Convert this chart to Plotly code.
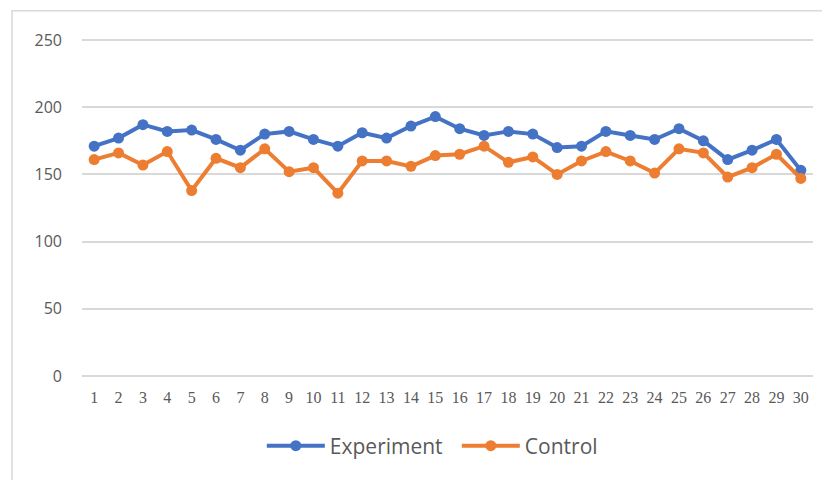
import plotly.graph_objects as go

categories = [str(i) for i in range(1, 31)]
experiment = [171, 177, 187, 182, 183, 176, 168, 180, 182, 176,
              171, 181, 177, 186, 193, 184, 179, 182, 180, 170,
              171, 182, 179, 176, 184, 175, 161, 168, 176, 153]
control = [161, 166, 157, 167, 138, 162, 155, 169, 152, 155,
           136, 160, 160, 156, 164, 165, 171, 159, 163, 150,
           160, 167, 160, 151, 169, 166, 148, 155, 165, 147]
y_ticks = [0, 50, 100, 150, 200, 250]

fig = go.Figure()
fig.add_trace(go.Scatter(x=categories, y=experiment, name="Experiment",
                         mode="lines+markers",
                         line=dict(color="#4472C4", width=4),
                         marker=dict(color="#4472C4", size=11)))
fig.add_trace(go.Scatter(x=categories, y=control, name="Control",
                         mode="lines+markers",
                         line=dict(color="#ED7D31", width=4),
                         marker=dict(color="#ED7D31", size=11)))

# page body has an 8px margin, so the figure is offset by 8px
W, H = 822, 472
fig.update_layout(
    width=W, height=H,
    margin=dict(l=74, r=17, t=30, b=102, autoexpand=False),
    paper_bgcolor="white", plot_bgcolor="white",
    showlegend=True,
    legend=dict(orientation="h", x=0.246, xanchor="left",
                yref="container", y=0.072, yanchor="middle",
                font=dict(family="Open Sans", size=21, color="#595959"),
                itemwidth=58, entrywidth=122, tracegroupgap=0),
    xaxis=dict(type="category", showgrid=False, zeroline=False, showline=False,
               ticks="", tickfont=dict(family="Liberation Serif", size=16, color="#595959"),
               range=[-0.5, 29.5], ticklabelstandoff=8),
    yaxis=dict(range=[-1.5, 251.5], tickvals=y_ticks, showgrid=True, gridcolor="#d9d9d9",
               gridwidth=1.5, zeroline=False, showline=False, ticks="",
               tickfont=dict(family="Open Sans", size=16, color="#595959"),
               ticklabelstandoff=19),
    shapes=[dict(type="rect", xref="paper", yref="paper",
                 x0=-0.0958, x1=1.04, y0=-0.35, y1=1.08,
                 line=dict(color="#d9d9d9", width=1.5), layer="below")],
)

fig.write_html("out.html")
